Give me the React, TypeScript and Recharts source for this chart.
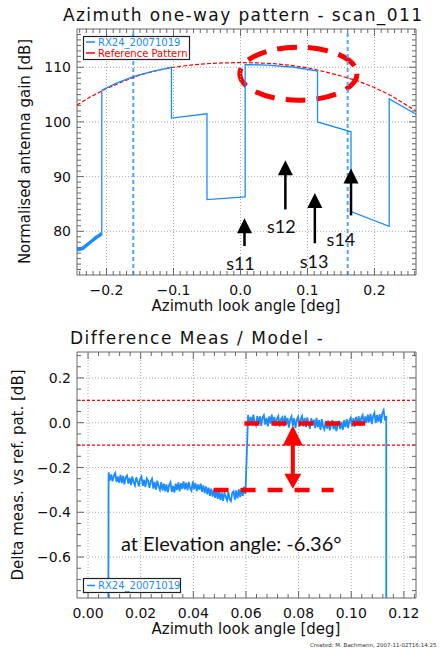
import React from "react";
import {
  LineChart,
  Line,
  XAxis,
  YAxis,
  ReferenceLine,
  ReferenceArea,
  ReferenceDot,
} from "recharts";

const FONT = "'DejaVu Sans', Verdana, sans-serif";
const HUMAN = "Lato, 'Open Sans', sans-serif";
const BLUE = "#1a8cff";
const LIGHTBLUE = "#4da6ff";
const RED = "#ff0000";
const AXIS = "#666666";
const GRID = "#a8a8a8";

// ---- top panel: azimuth pattern ----
const topXDomain = [-0.244, 0.262];
const topYDomain = [72, 117];
const topXMajor = [-0.2, -0.1, 0, 0.1, 0.2];
const topXLabels = ["\u22120.2", "\u22120.1", "0.0", "0.1", "0.2"];
const topYMajor = [80, 90, 100, 110];
const topYLabels = ["80", "90", "100", "110"];

const refAngle = [-0.244, -0.225, -0.2, -0.175, -0.15, -0.125, -0.1, -0.075, -0.05, -0.025, 0, 0.025, 0.05, 0.075, 0.1, 0.125, 0.15, 0.175, 0.2, 0.225, 0.262];
const refGain = [103.1, 104.5, 106.1, 107.4, 108.6, 109.4, 110.0, 110.4, 110.65, 110.8, 110.85, 110.8, 110.65, 110.35, 109.9, 109.2, 108.4, 107.5, 106.3, 104.8, 102.0];

const measAngle = [-0.207, -0.207, -0.185, -0.16, -0.13, -0.103, -0.103, -0.05, -0.05, 0.007, 0.007, 0.04, 0.08, 0.115, 0.115, 0.165, 0.165, 0.222, 0.222, 0.262];
const measGain = [79.6, 105.8, 107.1, 108.3, 109.3, 110.0, 100.7, 101.5, 85.8, 86.3, 110.5, 110.4, 110.0, 109.3, 100.0, 98.2, 83.6, 80.9, 104.2, 101.4];

const tailAngle = [-0.244, -0.24, -0.235, -0.23, -0.225, -0.22, -0.215, -0.21, -0.207];
const tailGain = [76.6, 76.7, 76.9, 77.4, 77.9, 78.4, 78.9, 79.3, 79.6];

const beamEdges = [-0.16, 0.16];

const swathNames = ["s11", "s12", "s13", "s14"];
const arrowAngle = [0.006, 0.067, 0.111, 0.165];
const arrowTip = [82.4, 93.0, 87.0, 91.5];
const arrowBase = [77.3, 84.0, 77.8, 82.9];
const nameAngle = [0.0, 0.061, 0.11, 0.15];
const nameGain = [74.1, 80.7, 74.4, 78.45];

// highlighted region (ellipse box)
const hiAngle = [-0.001, 0.174];
const hiGain = [103.97, 113.66];

// ---- bottom panel: difference ----
const botXDomain = [-0.0042, 0.1246];
const botYDomain = [-0.783, 0.316];
const botXMajor = [0, 0.02, 0.04, 0.06, 0.08, 0.1, 0.12];
const botXLabels = ["0.00", "0.02", "0.04", "0.06", "0.08", "0.10", "0.12"];
const botYMajor = [-0.6, -0.4, -0.2, 0, 0.2];
const botYLabels = ["\u22120.6", "\u22120.4", "\u22120.2", "0.0", "0.2"];
const tolerance = [0.1, -0.1];

const diffStartA = 0.0078;
const diffStartB = 0.0608;
const diffStep = 0.0005;
const diffLow = [
  -0.222, -0.258, -0.231, -0.262, -0.236, -0.225, -0.265, -0.240, -0.268, -0.233,
  -0.270, -0.238, -0.275, -0.244, -0.236, -0.272, -0.246, -0.279, -0.240, -0.266,
  -0.280, -0.244, -0.262, -0.284, -0.250, -0.240, -0.282, -0.255, -0.288, -0.249,
  -0.258, -0.291, -0.262, -0.250, -0.294, -0.264, -0.299, -0.259, -0.284, -0.300,
  -0.266, -0.303, -0.272, -0.307, -0.276, -0.311, -0.279, -0.266, -0.309, -0.282,
  -0.312, -0.272, -0.301, -0.266, -0.307, -0.270, -0.296, -0.262, -0.298, -0.268,
  -0.302, -0.264, -0.294, -0.304, -0.262, -0.296, -0.270, -0.306, -0.276, -0.299,
  -0.272, -0.309, -0.280, -0.314, -0.284, -0.320, -0.290, -0.327, -0.295, -0.330,
  -0.300, -0.336, -0.304, -0.340, -0.308, -0.346, -0.312, -0.349, -0.314, -0.330,
  -0.346, -0.310, -0.342, -0.350, -0.312, -0.306, -0.344, -0.302, -0.338, -0.298,
  -0.332, -0.292, -0.327, -0.286, -0.318,
];
const diffHigh = [
  0.034, -0.010, 0.026, -0.004, 0.036, 0.000, -0.012, 0.030, -0.006, 0.028,
  -0.014, 0.024, 0.034, -0.008, 0.022, -0.016, 0.028, -0.004, 0.036, -0.008,
  0.026, -0.014, 0.018, 0.030, -0.018, 0.016, 0.024, -0.016, 0.032, -0.008,
  0.022, -0.022, 0.014, 0.028, -0.014, 0.020, -0.024, 0.012, 0.026, -0.018,
  0.018, 0.030, -0.016, 0.022, -0.020, 0.024, -0.008, -0.026, 0.020, -0.012,
  0.014, -0.024, 0.022, -0.020, 0.012, -0.032, 0.016, -0.018, -0.030, 0.008,
  -0.026, 0.010, -0.034, -0.014, 0.012, -0.030, 0.004, -0.038, -0.016, 0.008,
  -0.028, 0.004, -0.032, 0.012, -0.020, 0.016, -0.024, 0.010, 0.022, -0.016,
  0.020, -0.018, 0.026, -0.010, 0.030, -0.014, 0.022, 0.034, -0.008, 0.028,
  -0.002, 0.036, 0.002, 0.040, -0.006, 0.030, 0.044, -0.002, 0.034, 0.004,
  0.038, -0.002, 0.042, 0.056, 0.010, 0.030,
];

// thick dashed levels and the step arrow
const levelHigh = { y: -0.003, from: 0.0594, to: 0.1053 };
const levelLow = { y: -0.3, from: 0.0477, to: 0.0933 };
const stepAngle = 0.0778;
const stepTop = -0.012;
const stepBottom = -0.295;

const steps = (a: number, b: number, s: number) => {
  const out: number[] = [];
  for (let v = a; v <= b + 1e-9; v += s) out.push(+v.toFixed(4));
  return out;
};
const toPts = (xs: number[], ys: number[]) => xs.map((x, i) => ({ x, y: ys[i] }));

const PLOT_H = 246;
const PLOT_W = 339;

function XTick(p: any) {
  const { majors, labels } = p;
  const v = p.payload.value;
  const i = majors.findIndex((m: number) => Math.abs(m - v) < 1e-6);
  const len = i >= 0 ? 7 : 4;
  return (
    <g>
      <line x1={p.x} x2={p.x} y1={p.y} y2={p.y - len} stroke={AXIS} />
      <line x1={p.x} x2={p.x} y1={p.y - PLOT_H} y2={p.y - PLOT_H + len} stroke={AXIS} />
      {i >= 0 && (
        <text x={p.x} y={p.y + 20} textAnchor="middle" fontFamily={FONT} fontSize={14} fill="#111">
          {labels[i]}
        </text>
      )}
    </g>
  );
}

function YTick(p: any) {
  const { majors, labels } = p;
  const v = p.payload.value;
  const i = majors.findIndex((m: number) => Math.abs(m - v) < 1e-6);
  const len = i >= 0 ? 7 : 4;
  return (
    <g>
      <line x1={p.x} x2={p.x + len} y1={p.y} y2={p.y} stroke={AXIS} />
      <line x1={p.x + PLOT_W - len} x2={p.x + PLOT_W} y1={p.y} y2={p.y} stroke={AXIS} />
      {i >= 0 && (
        <text x={p.x - 6} y={p.y + 5} textAnchor="end" fontFamily={FONT} fontSize={14} fill="#111">
          {labels[i]}
        </text>
      )}
    </g>
  );
}

const head = (w: number, h: number, fill: string, up: boolean) => (p: any) => {
  const d = up ? h : -h;
  return (
    <polygon
      points={`${p.cx},${p.cy} ${p.cx - w / 2},${p.cy + d} ${p.cx + w / 2},${p.cy + d}`}
      fill={fill}
    />
  );
};

const nameShape = (name: string) => (p: any) => (
  <text x={p.cx} y={p.cy + 6} textAnchor="middle" fontFamily={HUMAN} fontSize={18} fill="#111">
    {name}
  </text>
);

const ellipseShape = (p: any) => (
  <ellipse
    cx={p.x + p.width / 2}
    cy={p.y + p.height / 2}
    rx={p.width / 2}
    ry={p.height / 2}
    fill="none"
    stroke={RED}
    strokeWidth={5}
    strokeDasharray="20 11"
  />
);

const diffPts = [
  { x: diffStartA - 0.0001, y: -0.9 },
  ...diffLow.map((y, i) => ({ x: diffStartA + i * diffStep, y })),
  ...diffHigh.map((y, i) => ({ x: diffStartB + i * diffStep, y })),
  { x: diffStartB + (diffHigh.length - 1) * diffStep, y: -0.9 },
];

export default function App() {
  return (
    <div style={{ position: "absolute", left: 0, top: 0, width: 440, height: 649, background: "#fff", overflow: "hidden" }}>
      <div style={{ position: "absolute", left: 0, top: 0 }}>
        <LineChart width={440} height={320} margin={{ top: 29, right: 24, bottom: 15, left: 17 }}>
          <XAxis
            dataKey="x"
            type="number"
            domain={topXDomain}
            allowDataOverflow
            ticks={steps(-0.24, 0.26, 0.01)}
            interval={0}
            height={30}
            tickSize={0}
            tickMargin={0}
            axisLine={false}
            tickLine={false}
            tick={<XTick majors={topXMajor} labels={topXLabels} />}
          />
          <YAxis
            type="number"
            domain={topYDomain}
            allowDataOverflow
            ticks={steps(73, 116, 1)}
            interval={0}
            width={60}
            tickSize={0}
            tickMargin={0}
            axisLine={false}
            tickLine={false}
            tick={<YTick majors={topYMajor} labels={topYLabels} />}
          />
          {topXMajor.map((v) => (
            <ReferenceLine key={"gx" + v} x={v} stroke={GRID} strokeDasharray="1 2" />
          ))}
          {topYMajor.map((v) => (
            <ReferenceLine key={"gy" + v} y={v} stroke={GRID} strokeDasharray="1 2" />
          ))}
          {beamEdges.map((v) => (
            <ReferenceLine key={"be" + v} x={v} stroke={LIGHTBLUE} strokeWidth={2} strokeDasharray="4 3" />
          ))}
          <ReferenceArea x1={topXDomain[0]} x2={topXDomain[1]} y1={topYDomain[0]} y2={topYDomain[1]} fill="none" stroke={AXIS} />
          <Line data={toPts(refAngle, refGain)} dataKey="y" stroke={RED} strokeWidth={1.2} strokeDasharray="4 2" dot={false} activeDot={false} isAnimationActive={false} />
          <Line data={toPts(tailAngle, tailGain)} dataKey="y" stroke={BLUE} strokeWidth={3.5} dot={false} activeDot={false} isAnimationActive={false} />
          <Line data={toPts(measAngle, measGain)} dataKey="y" stroke={BLUE} strokeWidth={1.3} dot={false} activeDot={false} isAnimationActive={false} />
          <ReferenceArea x1={hiAngle[0]} x2={hiAngle[1]} y1={hiGain[0]} y2={hiGain[1]} shape={ellipseShape} />
          {arrowAngle.map((a, i) => (
            <ReferenceLine
              key={"as" + i}
              segment={[{ x: a, y: arrowBase[i] }, { x: a, y: arrowTip[i] - 1 }]}
              stroke="#000"
              strokeWidth={2.5}
            />
          ))}
          {arrowAngle.map((a, i) => (
            <ReferenceDot key={"ah" + i} x={a} y={arrowTip[i]} r={1} shape={head(15, 15, "#000", true)} />
          ))}
          {swathNames.map((n, i) => (
            <ReferenceDot key={"sn" + i} x={nameAngle[i]} y={nameGain[i]} r={1} shape={nameShape(n)} />
          ))}
        </LineChart>
      </div>

      <div style={{ position: "absolute", left: 0, top: 320 }}>
        <LineChart width={440} height={329} margin={{ top: 32, right: 24, bottom: 21, left: 17 }}>
          <XAxis
            dataKey="x"
            type="number"
            domain={botXDomain}
            allowDataOverflow
            ticks={steps(0, 0.124, 0.004)}
            interval={0}
            height={30}
            tickSize={0}
            tickMargin={0}
            axisLine={false}
            tickLine={false}
            tick={<XTick majors={botXMajor} labels={botXLabels} />}
          />
          <YAxis
            type="number"
            domain={botYDomain}
            allowDataOverflow
            ticks={steps(-0.75, 0.3, 0.05)}
            interval={0}
            width={60}
            tickSize={0}
            tickMargin={0}
            axisLine={false}
            tickLine={false}
            tick={<YTick majors={botYMajor} labels={botYLabels} />}
          />
          {botXMajor.map((v) => (
            <ReferenceLine key={"gx" + v} x={v} stroke={GRID} strokeDasharray="1 2" />
          ))}
          {botYMajor.map((v) => (
            <ReferenceLine key={"gy" + v} y={v} stroke={GRID} strokeDasharray="1 2" />
          ))}
          {tolerance.map((v) => (
            <ReferenceLine key={"tol" + v} y={v} stroke={RED} strokeWidth={1.4} strokeDasharray="3 2" />
          ))}
          <ReferenceArea x1={botXDomain[0]} x2={botXDomain[1]} y1={botYDomain[0]} y2={botYDomain[1]} fill="none" stroke={AXIS} />
          <Line data={diffPts} dataKey="y" stroke={BLUE} strokeWidth={1.8} dot={false} activeDot={false} isAnimationActive={false} />
          {[levelHigh, levelLow].map((l, i) => (
            <ReferenceLine
              key={"lv" + i}
              segment={[{ x: l.from, y: l.y }, { x: l.to, y: l.y }]}
              stroke={RED}
              strokeWidth={4.5}
              strokeDasharray="15 12"
            />
          ))}
          <ReferenceLine segment={[{ x: stepAngle, y: stepTop - 0.03 }, { x: stepAngle, y: stepBottom + 0.03 }]} stroke={RED} strokeWidth={4} />
          <ReferenceDot x={stepAngle} y={stepTop} r={1} shape={head(20, 20, RED, true)} />
          <ReferenceDot x={stepAngle} y={stepBottom} r={1} shape={head(17, 15, RED, false)} />
        </LineChart>
      </div>

      <svg width={440} height={649} style={{ position: "absolute", left: 0, top: 0, pointerEvents: "none" }}>
        <text x={63} y={20.7} fontFamily={FONT} fontSize={17} letterSpacing={1.4} fill="#111">
          Azimuth one-way pattern - scan_011
        </text>
        <text x={246} y={311} textAnchor="middle" fontFamily={FONT} fontSize={15} fill="#111">
          Azimuth look angle [deg]
        </text>
        <text x={30} y={151.5} textAnchor="middle" transform="rotate(-90 30 151.5)" fontFamily={FONT} fontSize={15} fill="#111">
          Normalised antenna gain [dB]
        </text>
        <rect x={83.5} y={36.5} width={106} height={23} fill="#fff" stroke="#222" strokeWidth={1.2} />
        <line x1={86} x2={95} y1={42} y2={42} stroke={BLUE} strokeWidth={1.5} />
        <text x={98} y={45.7} fontFamily={FONT} fontSize={10} fill={BLUE}>RX24_20071019</text>
        <line x1={86} x2={95} y1={53} y2={53} stroke={RED} strokeWidth={1.5} />
        <text x={98} y={56.7} fontFamily={FONT} fontSize={10} fill={RED}>Reference Pattern</text>

        <text x={70} y={344} fontFamily={FONT} fontSize={17} letterSpacing={1.5} fill="#111">
          Difference Meas / Model -
        </text>
        <text x={246} y={634} textAnchor="middle" fontFamily={FONT} fontSize={15} fill="#111">
          Azimuth look angle [deg]
        </text>
        <text x={23} y={475} textAnchor="middle" transform="rotate(-90 23 475)" fontFamily={FONT} fontSize={15} fill="#111">
          Delta meas. vs ref. pat. [dB]
        </text>
        <text x={121} y={550.7} fontFamily={HUMAN} fontSize={20} fill="#111">
          at Elevation angle: -6.36°
        </text>
        <rect x={83.5} y={578.5} width={97} height={14} fill="#fff" stroke="#222" strokeWidth={1.2} />
        <line x1={87} x2={95} y1={585.5} y2={585.5} stroke={BLUE} strokeWidth={1.5} />
        <text x={98} y={589.3} fontFamily={FONT} fontSize={10} fill={BLUE}>RX24_20071019</text>
        <text x={310} y={647} fontFamily={FONT} fontSize={5.5} fill="#333">
          Created: M. Bachmann, 2007-11-02T16:14:25
        </text>
      </svg>
    </div>
  );
}
